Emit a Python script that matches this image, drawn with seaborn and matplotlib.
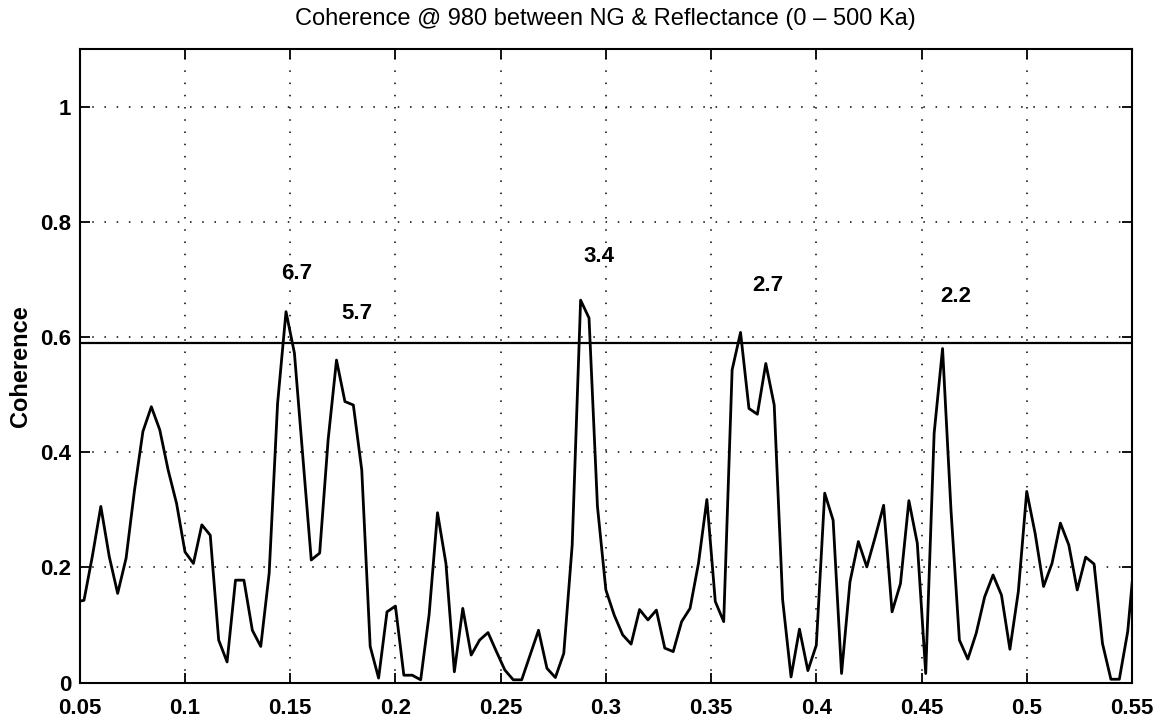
import numpy as np
import pandas as pd
import matplotlib
matplotlib.use("Agg")
import matplotlib.pyplot as plt
import seaborn as sns

# ---- data ----
freq_start = 0.048
freq_step = 0.004
coherence = [
    0.140,
    0.143, 0.220, 0.306, 0.219, 0.155, 0.216, 0.334, 0.436, 0.479, 0.439,
    0.369, 0.311, 0.227, 0.207, 0.274, 0.256, 0.074, 0.036, 0.178, 0.178,
    0.091, 0.063, 0.190, 0.485, 0.644, 0.572, 0.392, 0.213, 0.225, 0.421,
    0.560, 0.488, 0.482, 0.369, 0.063, 0.008, 0.123, 0.133, 0.013, 0.013,
    0.005, 0.118, 0.295, 0.207, 0.019, 0.129, 0.048, 0.074, 0.087, 0.054,
    0.022, 0.005, 0.005, 0.048, 0.091, 0.025, 0.009, 0.051, 0.239, 0.664,
    0.633, 0.306, 0.161, 0.117, 0.083, 0.067, 0.127, 0.109, 0.126, 0.060,
    0.054, 0.106, 0.129, 0.207, 0.318, 0.141, 0.106, 0.543, 0.608, 0.476,
    0.466, 0.554, 0.482, 0.144, 0.010, 0.093, 0.021, 0.065, 0.329, 0.282,
    0.016, 0.175, 0.245, 0.201, 0.253, 0.308, 0.123, 0.172, 0.316, 0.242,
    0.016, 0.433, 0.580, 0.300, 0.074, 0.041, 0.086, 0.149, 0.187, 0.152,
    0.058, 0.158, 0.332, 0.259, 0.167, 0.207, 0.277, 0.239, 0.161, 0.218,
    0.206, 0.068, 0.006, 0.006, 0.089, 0.250,
]
frequency = freq_start + freq_step * np.arange(len(coherence))

significance_level = 0.59

peak_labels = ["6.7", "5.7", "3.4", "2.7", "2.2"]
peak_label_x = [0.1533, 0.1815, 0.2967, 0.3771, 0.4662]
peak_label_y = [0.711, 0.641, 0.739, 0.689, 0.671]

x_ticks = [0.05, 0.1, 0.15, 0.2, 0.25, 0.3, 0.35, 0.4, 0.45, 0.5, 0.55]
x_tick_labels = ["0.05", "0.1", "0.15", "0.2", "0.25", "0.3", "0.35", "0.4", "0.45", "0.5", "0.55"]
y_ticks = [0, 0.2, 0.4, 0.6, 0.8, 1.0]
y_tick_labels = ["0", "0.2", "0.4", "0.6", "0.8", "1"]

title = "Coherence @ 980 between NG & Reflectance (0 \u2013 500 Ka)"
y_label = "Coherence"

# ---- style ----
sns.set_theme(style="white")
plt.rcParams["font.family"] = ["Liberation Sans", "DejaVu Sans"]
plt.rcParams["text.color"] = "black"
plt.rcParams["axes.labelcolor"] = "black"

df = pd.DataFrame({"frequency": frequency, "coherence": coherence})

fig = plt.figure(figsize=(11.63, 7.2), dpi=100)
ax = fig.add_axes([0.0686, 0.0518, 0.9047, 0.8802])

sns.lineplot(data=df, x="frequency", y="coherence", ax=ax, color="black",
             linewidth=2.0, sort=False, estimator=None)
ax.axhline(significance_level, color="black", linewidth=1.6)

ax.set_xlim(0.05, 0.55)
ax.set_ylim(0, 1.1)
ax.set_xticks(x_ticks)
ax.set_xticklabels(x_tick_labels)
ax.set_yticks(y_ticks)
ax.set_yticklabels(y_tick_labels)

ax.grid(True, linestyle=(0, (1, 7)), color="black", linewidth=1.1)
for s in ax.spines.values():
    s.set_color("black")
    s.set_linewidth(1.5)
    s.set_visible(True)

ax.tick_params(axis="both", which="major", direction="in", length=7, width=1.3,
               top=True, right=True, bottom=True, left=True,
               labelsize=16, colors="black", pad=6)
ax.tick_params(axis="x", pad=11)
for lab in ax.get_xticklabels() + ax.get_yticklabels():
    lab.set_fontweight("bold")

ax.set_xlabel("")
ax.set_ylabel(y_label, fontsize=17, fontweight="bold", labelpad=6, color="black")
ax.set_title(title, fontsize=17, pad=17, color="black")

for lbl, lx, ly in zip(peak_labels, peak_label_x, peak_label_y):
    ax.text(lx, ly, lbl, ha="center", va="center", fontsize=16,
            fontweight="bold", color="black")

fig.savefig("out.png", dpi=100)
